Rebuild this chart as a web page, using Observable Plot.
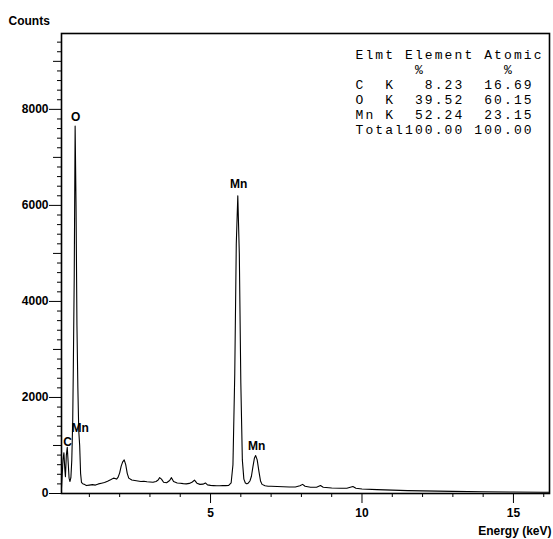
<!DOCTYPE html>
<html>
<head>
<meta charset="utf-8">
<script src="https://cdn.jsdelivr.net/npm/d3@7"></script>
<script src="https://cdn.jsdelivr.net/npm/@observablehq/plot@0.6"></script>
<style>
  html, body { margin: 0; padding: 0; background: #fff; }
  #chart svg { display: block; }
</style>
</head>
<body>
<div id="chart"></div>
<script>
// EDS spectrum: energy (keV) against counts
const energy = [
  0.08, 0.10, 0.13, 0.16, 0.19, 0.21, 0.24, 0.27, 0.30, 0.33, 0.36, 0.39, 0.42, 0.45,
  0.47, 0.50, 0.53, 0.56, 0.59, 0.62, 0.65, 0.68, 0.71, 0.74, 0.77, 0.80, 0.85, 0.90,
  1.00, 1.10, 1.20, 1.30, 1.40, 1.50, 1.60, 1.70, 1.80, 1.90, 1.95, 2.00, 2.05, 2.10,
  2.15, 2.20, 2.25, 2.30, 2.40, 2.50, 2.60, 2.70, 2.80, 2.90, 3.00, 3.10, 3.20, 3.27,
  3.32, 3.38, 3.45, 3.55, 3.65, 3.71, 3.78, 3.90, 4.00, 4.10, 4.20, 4.30, 4.40, 4.47,
  4.55, 4.65, 4.75, 4.83, 4.90, 5.00, 5.10, 5.20, 5.30, 5.40, 5.50, 5.60, 5.68, 5.74,
  5.80, 5.85, 5.90, 5.95, 6.00, 6.05, 6.10, 6.15, 6.20, 6.25, 6.30, 6.35, 6.40, 6.45,
  6.49, 6.54, 6.60, 6.65, 6.70, 6.80, 6.90, 7.00, 7.20, 7.40, 7.60, 7.80, 7.95, 8.04,
  8.12, 8.30, 8.50, 8.63, 8.72, 9.00, 9.30, 9.50, 9.70, 9.80, 10.00, 10.50, 11.00, 11.50,
  12.00, 12.50, 13.00, 14.00, 15.00, 16.00, 16.19
];
const counts = [
  120, 350, 700, 850, 500, 350, 800, 960, 650, 320, 250, 330, 700, 1500,
  2600, 4500, 7650, 6000, 3500, 2200, 1300, 1000, 420, 230, 210, 200, 185, 165,
  175, 185, 175, 200, 215, 230, 255, 285, 320, 300, 340, 430, 570, 660,
  700, 600, 420, 320, 280, 270, 260, 250, 255, 245, 240, 235, 250, 280,
  330, 300, 235, 225, 270, 330, 250, 220, 215, 205, 200, 210, 240, 280,
  215, 190, 195, 220, 180, 170, 165, 160, 160, 165, 165, 170, 220, 600,
  2500, 5200, 6200, 5000, 2300, 700, 300, 220, 200, 220, 260, 360, 560, 740,
  790, 700, 450, 260, 190, 160, 150, 150, 145, 140, 135, 135, 160, 190,
  150, 130, 130, 165, 130, 115, 110, 110, 145, 110, 95, 80, 70, 60,
  55, 50, 45, 35, 30, 25, 25
];

// Peak annotations
const peakNames = ["C", "O", "Mn", "Mn", "Mn"];
const peakEnergy = [0.28, 0.55, 0.70, 5.93, 6.52];
const peakCounts = [1063, 7830, 1354, 6440, 980];

// Quantification table
const tableRows = [
  "Elmt Element Atomic",
  "      %        %",
  "C  K   8.23  16.69",
  "O  K  39.52  60.15",
  "Mn K  52.24  23.15",
  "Total100.00 100.00"
];

// Axis ticks
const yMajorTicks = [0, 2000, 4000, 6000, 8000];
const yMidTicks = [1000, 3000, 5000, 7000, 9000];
const yMinorTicks = d3.range(200, 9600, 200).filter(v => v % 1000 !== 0);
const xMajorTicks = [5, 10, 15];
const xMinorTicks = d3.range(1, 17).filter(v => v % 5 !== 0);

const spectrum = energy.map((e, i) => ({energy: e, counts: counts[i]}));
const peaks = peakNames.map((n, i) => ({name: n, energy: peakEnergy[i], counts: peakCounts[i]}));

const chart = Plot.plot({
  width: 553,
  height: 539,
  marginLeft: 61,
  marginRight: 4,
  marginTop: 33,
  marginBottom: 46,
  x: {domain: [0.08, 16.19]},
  y: {domain: [0, 9580]},
  style: {
    fontFamily: "'Liberation Sans', Arial, sans-serif",
    fontSize: "12px",
    fontWeight: "bold",
    color: "black",
    background: "white"
  },
  marks: [
    Plot.axisY(yMajorTicks, {tickSize: 12, tickPadding: 1, tickFormat: d => String(d), label: null}),
    Plot.axisY(yMidTicks, {tickSize: 8, tickFormat: () => "", label: null}),
    Plot.axisY(yMinorTicks, {tickSize: 4, tickFormat: () => "", label: null}),
    Plot.axisX(xMajorTicks, {tickSize: 10, tickPadding: 5, label: null}),
    Plot.axisX(xMinorTicks, {tickSize: 4, tickFormat: () => "", label: null}),
    Plot.line(spectrum, {x: "energy", y: "counts", stroke: "black", strokeWidth: 1.1}),
    Plot.frame({stroke: "black", strokeWidth: 1.6}),
    Plot.text(peaks, {x: "energy", y: "counts", text: "name", fontSize: 12, fill: "black"}),
    Plot.text(["Counts"], {frameAnchor: "top-left", dx: -53, dy: -17, textAnchor: "start", fill: "black"}),
    Plot.text(["Energy (keV)"], {frameAnchor: "bottom-right", dx: 2, dy: 41, textAnchor: "end", fill: "black"}),
    Plot.text([tableRows.join("\n")], {
      frameAnchor: "top-left", dx: 294, dy: 15, textAnchor: "start", lineAnchor: "top",
      fontFamily: "'Liberation Mono', 'Courier New', monospace", fontSize: 13,
      fontWeight: "normal", lineHeight: 15 / 13, fill: "black"
    })
  ]
});

// widen the monospace table columns
d3.select(chart).selectAll("g[font-family*='Mono']").style("letter-spacing", "2.1px");

document.getElementById("chart").appendChild(chart);
</script>
</body>
</html>
